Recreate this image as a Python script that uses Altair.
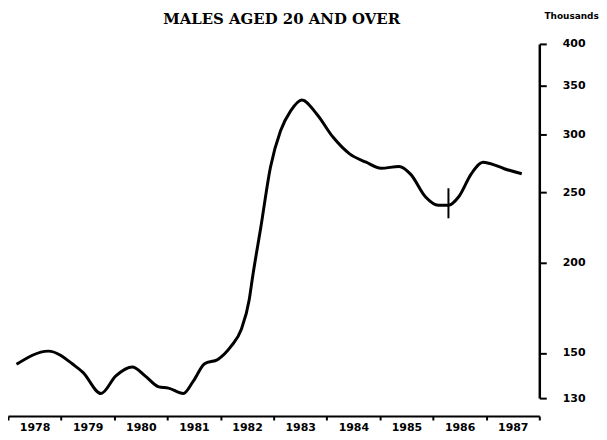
import altair as alt
import pandas as pd

# Decimal year and value (thousands)
t = [1978.16, 1978.76, 1979.26, 1979.41, 1979.75, 1980.03, 1980.34, 1980.58,
     1980.84, 1981.02, 1981.30, 1981.49, 1981.70, 1981.95, 1982.20, 1982.39,
     1982.54, 1982.60, 1982.76, 1982.94, 1983.13, 1983.32, 1983.53, 1983.81,
     1984.12, 1984.43, 1984.74, 1985.02, 1985.36, 1985.58, 1985.86, 1986.10,
     1986.29, 1986.48, 1986.72, 1986.94, 1987.07, 1987.34, 1987.67]
v = [144.7, 150.9, 144.0, 141.1, 131.9, 139.5, 143.5, 139.5,
     134.7, 134.2, 131.9, 137.3, 145.0, 147.0, 153.3, 161.6,
     177.6, 190.2, 223.9, 270.5, 303.7, 323.5, 334.9, 320.2,
     297.4, 282.2, 274.8, 269.6, 271.1, 264.4, 246.1, 239.7,
     239.7, 246.1, 264.9, 274.8, 273.7, 269.2, 264.9]

marker_t = [1986.29]
marker_lo = [230.0]
marker_hi = [253.0]

year_ticks = list(range(1978, 1989))
y_ticks = [130, 150, 200, 250, 300, 350, 400]

df = pd.DataFrame({"t": t, "v": v})
mk = pd.DataFrame({"t": marker_t, "lo": marker_lo, "hi": marker_hi})

xs = alt.Scale(domain=[1978, 1988], nice=False, zero=False)
ys = alt.Scale(type="log", domain=[130, 400], nice=False)

x_axis = alt.Axis(
    values=year_ticks, title=None, grid=False, format="d",
    labelExpr="datum.value >= 1988 ? '' : datum.label",
    labelOffset=26.7, offset=18, domainColor="black", domainWidth=2,
    tickColor="black", tickWidth=2, tickSize=4, labelPadding=2,
    labelFont="DejaVu Sans", labelFontWeight="bold", labelFontSize=11,
    labelColor="black", labelFlush=False,
)
y_axis = alt.Axis(
    orient="right", values=y_ticks, grid=False, format="d",
    title="Thousands", titleAngle=0, titleAlign="center", titleBaseline="middle",
    titleX=32, titleY=-29, titleFont="DejaVu Sans", titleFontWeight="bold",
    titleFontSize=9, titleColor="black",
    domainColor="black", domainWidth=2.5, tickColor="black", tickWidth=2,
    tickSize=7, labelAlign="right", labelPadding=39, labelBaseline="middle",
    labelFont="DejaVu Sans", labelFontWeight="bold", labelFontSize=11,
    labelColor="black",
)

line = alt.Chart(df).mark_line(
    color="black", strokeWidth=3, interpolate="monotone"
).encode(
    x=alt.X("t:Q", scale=xs, axis=x_axis),
    y=alt.Y("v:Q", scale=ys, axis=y_axis),
)

rule = alt.Chart(mk).mark_rule(color="black", strokeWidth=2).encode(
    x=alt.X("t:Q", scale=xs),
    y=alt.Y("lo:Q", scale=ys),
    y2="hi:Q",
)

chart = alt.layer(line, rule).properties(
    width=534,
    height=356,
    autosize=alt.AutoSizeParams(type="none"),
    padding={"left": 0, "top": 35, "right": 60, "bottom": 40},
    title=alt.TitleParams(
        "MALES AGED 20 AND OVER", font="DejaVu Serif", fontSize=15,
        fontWeight="bold", anchor="middle", dx=8, offset=17, dy=33,
        color="black",
    ),
).configure(background="white").configure_view(stroke=None)

chart.save("out.html", embed_options={"renderer": "svg", "actions": False})
